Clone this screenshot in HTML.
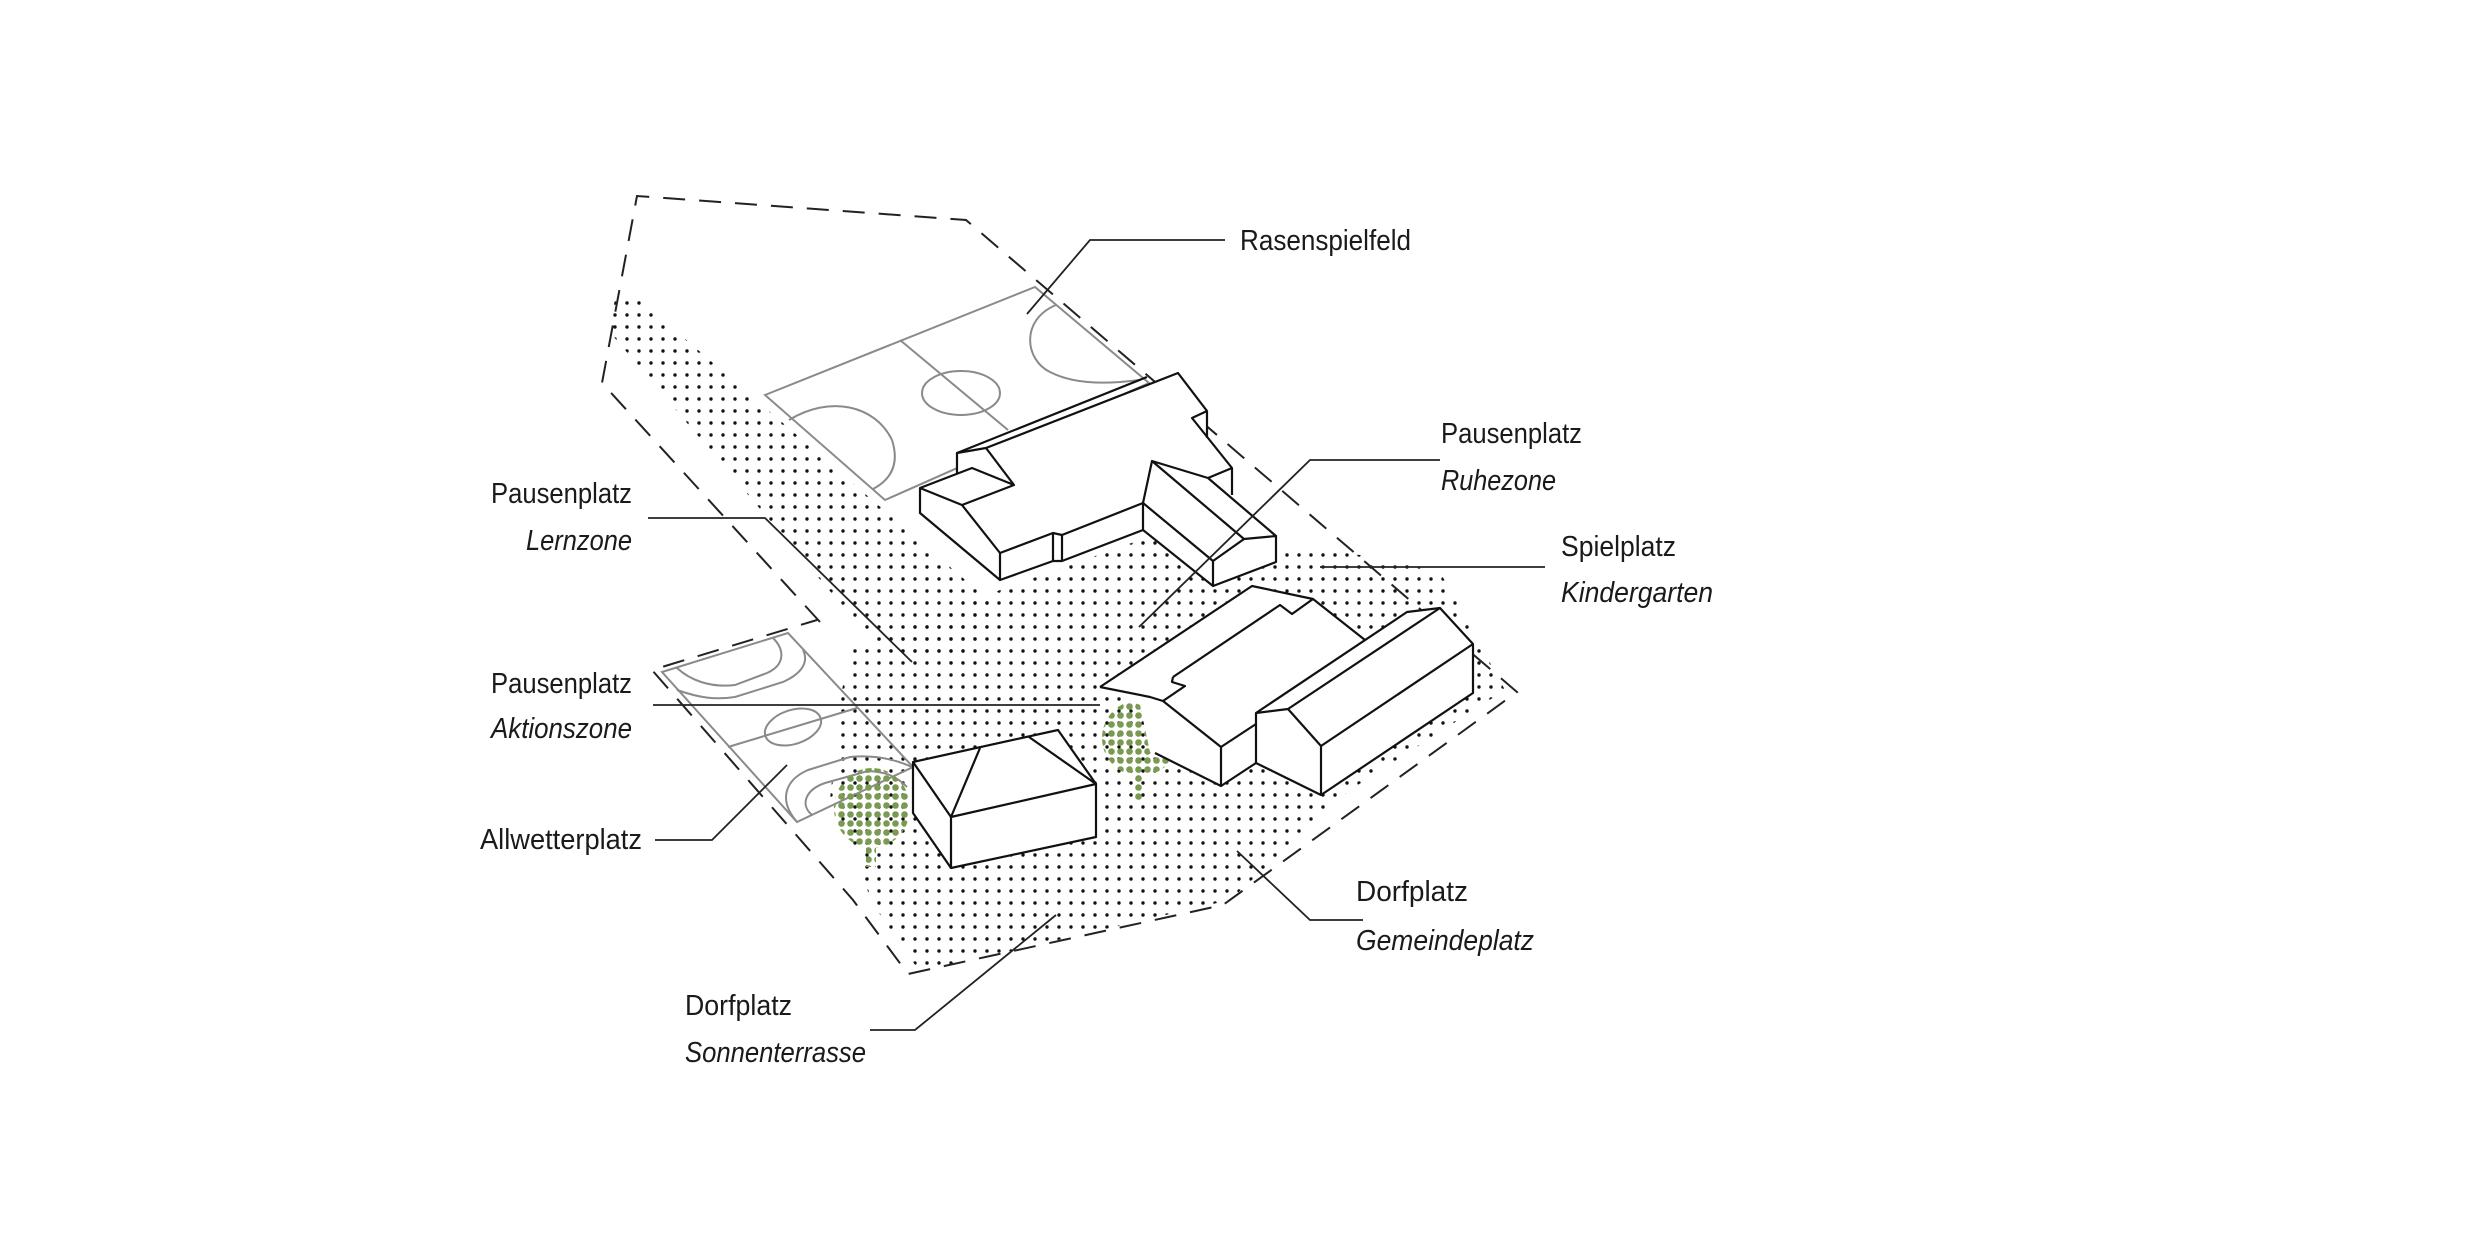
<!DOCTYPE html>
<html><head><meta charset="utf-8"><style>
html,body{margin:0;padding:0;background:#fff;}
svg{display:block;}
text{font-family:"Liberation Sans Narrow","Liberation Sans",sans-serif;font-size:29px;fill:#1a1a1a;}
.i{font-style:italic;}
</style></head><body>
<svg width="2480" height="1240" viewBox="0 0 2480 1240" xmlns="http://www.w3.org/2000/svg">
<defs>
<pattern id="dots" width="12" height="12" patternUnits="userSpaceOnUse"><circle cx="3" cy="3" r="1.7" fill="#111"/></pattern>
<pattern id="gdots" x="0" y="0" width="9" height="9" patternUnits="userSpaceOnUse"><circle cx="4.5" cy="4.5" r="3.3" fill="#7a9a52"/></pattern>
</defs>
<polygon points="615,300 640,300 1000,610 960,665 880,650 608,330" fill="url(#dots)"/>
<polygon points="850,650 1000,590 1140,540 1280,545 1360,555 1440,572 1505,690 1350,790 1230,900 920,972 870,900 860,860 830,800 840,700" fill="url(#dots)"/>
<g fill="none" stroke="#8a8a8a" stroke-width="2">
<polygon points="765,395 1035,287 1149,383 885,500"/>
<line x1="900" y1="340" x2="1008" y2="430"/>
<ellipse cx="961" cy="393" rx="39" ry="22"/>
<path d="M789,420 C830,395 875,405 892,440 C900,465 890,480 873,489"/>
<path d="M1056,305 C1020,320 1025,360 1050,372 C1075,385 1110,384 1139,380"/>
<polygon points="662,672 788,633 913,767 797,822"/>
<line x1="728" y1="747" x2="857" y2="708"/>
<ellipse cx="793" cy="727" rx="29" ry="17" transform="rotate(-18 793 727)"/>
<path d="M677,668 C690,680 710,688 735,685 L767,673 C785,665 785,650 773,638"/>
<path d="M677,690 C700,698 715,700 735,697 L783,682 C805,672 808,660 803,650"/>
<path d="M907,787 C895,775 885,772 868,771 L825,783 C805,790 800,805 812,815"/>
<path d="M912,767 C890,757 870,755 850,757 L808,770 C785,780 778,800 797,822"/>
</g>
<ellipse cx="872" cy="808" rx="38" ry="40" fill="url(#gdots)"/>
<rect x="866" y="845" width="10" height="22" fill="url(#gdots)"/>
<ellipse cx="1140" cy="738" rx="38" ry="38" fill="url(#gdots)"/>
<rect x="1133" y="772" width="10" height="30" fill="url(#gdots)"/>
<g fill="none" stroke="#222" stroke-width="2" stroke-dasharray="22,14">
<polyline points="820,622 602,383 637,196 966,220 1517,692 1223,905 908,974 853,900 652,670 817,620"/>
</g>
<g fill="#fff" stroke="none">
<polygon points="920,488 957,473 957,453 986,448 1178,373 1207,411 1207,438 1232,468 1232,495 1276,536 1276,562 1213,586 1143,530 1000,580 920,513"/>
<polygon points="1100,687 1252,586 1313,599 1365,640 1407,612 1440,608 1473,644 1473,693 1321,795 1256,763 1221,786 1150,752 1140,705"/>
<polygon points="913,762 1058,730 1096,784 1096,837 951,868 913,813"/>
</g>
<g fill="none" stroke="#111" stroke-width="2.2" stroke-linejoin="round">
<polyline points="957,473 957,453 986,448 1178,373 1207,411 1207,438"/>
<line x1="957" y1="453" x2="1147" y2="377"/>
<polyline points="986,448 1014,485 962,505 920,488 972,468 1014,485"/>
<polyline points="1207,411 1192,418 1232,468 1232,495"/>
<polyline points="1232,468 1208,478"/>
<polyline points="962,505 1000,553 1053,533 1053,561 1000,580 920,513 920,488"/>
<line x1="1000" y1="553" x2="1000" y2="580"/>
<polyline points="1053,533 1062,535 1062,561 1053,561"/>
<polyline points="1062,535 1143,503 1143,530 1062,561"/>
<polyline points="1143,503 1152,461 1208,478 1276,536 1244,539 1152,461"/>
<polyline points="1244,539 1213,561 1143,503"/>
<polyline points="1213,561 1213,586 1143,530"/>
<polyline points="1213,586 1276,562 1276,536"/>
<polyline points="1100,687 1252,586 1313,599 1365,640"/>
<polyline points="1100,687 1150,697 1163,701 1221,747 1221,786 1155,753"/>
<polyline points="1173,677 1280,605 1292,614 1313,599"/>
<polyline points="1173,677 1172,682 1185,686 1163,701"/>
<polyline points="1221,747 1256,724"/>
<polyline points="1221,786 1256,763 1256,713 1407,612 1440,608 1473,644 1473,693 1321,795 1256,763"/>
<polyline points="1256,713 1288,709 1440,608"/>
<polyline points="1288,709 1321,746 1473,644"/>
<line x1="1321" y1="746" x2="1321" y2="795"/>
<polygon points="913,762 1058,730 1096,784 1096,837 951,868 913,813"/>
<polyline points="913,762 951,817 980,748"/>
<polyline points="1029,737 1096,784 951,817 951,868"/>
</g>
<g fill="none" stroke="#222" stroke-width="1.8">
<polyline points="1225,240 1090,240 1027,314"/>
<polyline points="1440,460 1310,460 1139,627"/>
<line x1="1320" y1="567" x2="1545" y2="567"/>
<polyline points="648,518 765,518 912,662"/>
<line x1="653" y1="705" x2="1100" y2="705"/>
<polyline points="655,840 712,840 787,765"/>
<polyline points="1363,920 1310,920 1237,851"/>
<polyline points="870,1030 915,1030 1056,915"/>
</g>
<text x="1240" y="250" textLength="171" lengthAdjust="spacingAndGlyphs">Rasenspielfeld</text>
<text x="1441" y="443" textLength="141" lengthAdjust="spacingAndGlyphs">Pausenplatz</text>
<text class="i" x="1441" y="490" textLength="115" lengthAdjust="spacingAndGlyphs">Ruhezone</text>
<text x="1561" y="556" textLength="115" lengthAdjust="spacingAndGlyphs">Spielplatz</text>
<text class="i" x="1561" y="602" textLength="152" lengthAdjust="spacingAndGlyphs">Kindergarten</text>
<text x="491" y="503" textLength="141" lengthAdjust="spacingAndGlyphs">Pausenplatz</text>
<text class="i" x="526" y="550" textLength="106" lengthAdjust="spacingAndGlyphs">Lernzone</text>
<text x="491" y="693" textLength="141" lengthAdjust="spacingAndGlyphs">Pausenplatz</text>
<text class="i" x="491" y="738" textLength="141" lengthAdjust="spacingAndGlyphs">Aktionszone</text>
<text x="480" y="849" textLength="162" lengthAdjust="spacingAndGlyphs">Allwetterplatz</text>
<text x="1356" y="901" textLength="112" lengthAdjust="spacingAndGlyphs">Dorfplatz</text>
<text class="i" x="1356" y="950" textLength="178" lengthAdjust="spacingAndGlyphs">Gemeindeplatz</text>
<text x="685" y="1015" textLength="107" lengthAdjust="spacingAndGlyphs">Dorfplatz</text>
<text class="i" x="685" y="1062" textLength="181" lengthAdjust="spacingAndGlyphs">Sonnenterrasse</text>
</svg>
</body></html>
